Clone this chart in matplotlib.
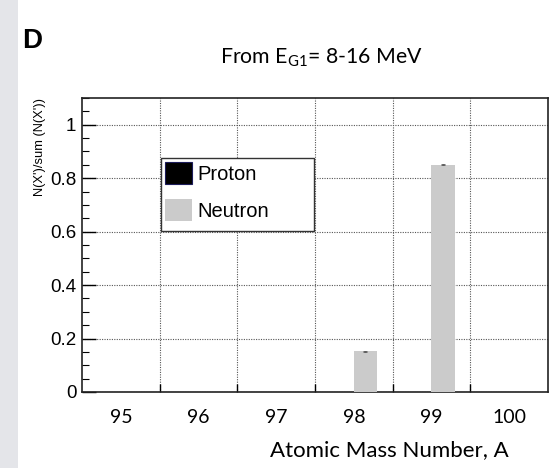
import matplotlib
matplotlib.use("Agg")
import matplotlib.pyplot as plt
from matplotlib.patches import Patch, Rectangle
from matplotlib.ticker import MultipleLocator, FixedLocator
import numpy as np

# ---- data ----
mass_numbers = [95, 96, 97, 98, 99, 100]
proton_frac = [0.0, 0.0, 0.0, 0.0, 0.0, 0.0]
neutron_frac = [0.0, 0.0, 0.0, 0.152, 0.851, 0.0]
neutron_err = [0.0, 0.0, 0.0, 0.003, 0.003, 0.0]
y_ticks = [0, 0.2, 0.4, 0.6, 0.8, 1]
y_tick_labels = ["0", "0.2", "0.4", "0.6", "0.8", "1"]
series_names = ["Proton", "Neutron"]

W, H = 551, 468
fig = plt.figure(figsize=(W / 100, H / 100), dpi=100)
fig.patch.set_facecolor("white")

# grey strip at the left
fig.patches.append(Rectangle((0, 0), 18 / W, 1, transform=fig.transFigure,
                             facecolor="#e4e5e9", edgecolor="none", zorder=0))

ax = fig.add_axes([82 / W, 1 - 392 / H, (548 - 82) / W, (392 - 98) / H])

x = np.array(mass_numbers, dtype=float)
bw = 0.3
ax.bar(x - bw / 2, proton_frac, width=bw, color="black", edgecolor="none", zorder=3)
ax.bar(x + bw / 2, neutron_frac, width=bw, color="#cbcbcb", edgecolor="none", zorder=3)
nz = np.array(neutron_frac) > 0
ax.errorbar((x + bw / 2)[nz], np.array(neutron_frac)[nz], yerr=np.array(neutron_err)[nz],
            fmt="none", ecolor="#555555", elinewidth=0.8, capsize=1.5, capthick=0.6, zorder=4)

ax.set_xlim(94.5, 100.5)
ax.set_ylim(0, 1.1)

# y axis ticks
ax.yaxis.set_major_locator(FixedLocator(y_ticks))
ax.set_yticklabels(y_tick_labels)
ax.yaxis.set_minor_locator(MultipleLocator(0.05))
ax.tick_params(axis="y", which="major", direction="in", length=10, width=1.0,
               labelsize=13.5, pad=4, right=False)
ax.tick_params(axis="y", which="minor", direction="in", length=5, width=0.8, right=False)
for t in ax.get_yticklabels():
    t.set_family(["Liberation Sans", "DejaVu Sans"])

# x axis: labels at bin centres, ticks at bin edges
ax.set_xticks(x)
ax.set_xticklabels([str(m) for m in mass_numbers], fontsize=14, family="Lato")
ax.xaxis.set_minor_locator(FixedLocator(list(x[:-1] + 0.5)))
ax.tick_params(axis="x", which="major", length=0, pad=12)
ax.tick_params(axis="x", which="minor", direction="in", length=6, width=1.0, top=False)

# grid
ax.grid(True, axis="y", which="major", linestyle=(0, (1, 1.2)), color="#555555", linewidth=0.8, zorder=1)
ax.grid(True, axis="x", which="minor", linestyle=(0, (1, 1.2)), color="#555555", linewidth=0.8, zorder=1)
ax.grid(False, axis="x", which="major")

for s in ax.spines.values():
    s.set_linewidth(1.2)
    s.set_color("#222222")

# legend frame (fixed size box, as in the original)
frame = Rectangle((161 / W, 1 - 231 / H), (314 - 161) / W, (231 - 158) / H,
                  transform=fig.transFigure, facecolor="white", edgecolor="#333333",
                  linewidth=1.0, zorder=5)
ax.add_patch(frame)
frame.set_clip_on(False)

handles = [Patch(facecolor="black", edgecolor="#1c1c5a", linewidth=0.8),
           Patch(facecolor="#cbcbcb", edgecolor="none")]
fs = 14.5
leg = ax.legend(handles, series_names, loc="upper left",
                bbox_to_anchor=((161 - 82) / (548 - 82), (392 - 158) / (392 - 98)),
                prop={"family": "Liberation Sans", "size": fs},
                frameon=False,
                handlelength=1.32, handleheight=1.32, handletextpad=0.3,
                borderpad=0.2, labelspacing=0.73, borderaxespad=0)
leg.set_zorder(6)

# texts
fig.text(40 / W, 1 - 146.5 / H, "N(X')/sum (N(X'))", rotation=90, ha="center", va="center",
         fontsize=9.3, family="Liberation Sans")
fig.text(389 / W, 1 - 450 / H, "Atomic Mass Number, A", ha="center", va="center",
         fontsize=16, family="Lato")
fig.text(321 / W, 1 - 58 / H, r"From E$_{\mathregular{G1}}$= 8-16 MeV", ha="center", va="center",
         fontsize=15.3, family="Lato")
fig.text(22 / W, 1 - 41 / H, "D", ha="left", va="center", fontsize=20, fontweight="bold",
         family="Liberation Sans")

fig.savefig("out.png", dpi=100)
